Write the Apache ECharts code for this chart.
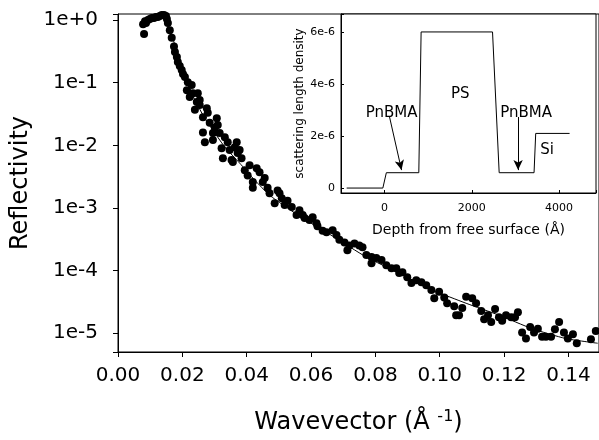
<!DOCTYPE html>
<html>
<head>
<meta charset="utf-8">
<script src="https://cdn.jsdelivr.net/npm/echarts@6/dist/echarts.min.js"></script>
<style>html,body{margin:0;padding:0;background:#fff;}#c{width:599px;height:440px;}</style>
</head>
<body>
<div id="c"></div>
<script>
// Main reflectivity data (wavevector in 1/Å, reflectivity)
const qData = [0.0078,0.0081,0.0084,0.0087,0.0093,0.0099,0.0105,0.0112,0.0118,0.0124,0.0130,0.0136,0.0143,0.0149,0.0152,0.0155,0.0161,0.0167,0.0174,0.0177,0.0183,0.0186,0.0192,0.0198,0.0202,0.0208,0.0214,0.0217,0.0223,0.0229,0.0233,0.0239,0.0245,0.0248,0.0254,0.0254,0.0264,0.0264,0.0270,0.0276,0.0279,0.0285,0.0295,0.0295,0.0301,0.0307,0.0310,0.0316,0.0322,0.0326,0.0332,0.0341,0.0347,0.0353,0.0357,0.0363,0.0369,0.0372,0.0378,0.0384,0.0394,0.0403,0.0409,0.0419,0.0419,0.0431,0.0440,0.0450,0.0456,0.0465,0.0471,0.0487,0.0496,0.0502,0.0509,0.0518,0.0527,0.0540,0.0555,0.0564,0.0574,0.0580,0.0595,0.0605,0.0617,0.0620,0.0636,0.0648,0.0667,0.0679,0.0688,0.0704,0.0713,0.0719,0.0735,0.0750,0.0760,0.0772,0.0788,0.0788,0.0803,0.0819,0.0834,0.0850,0.0865,0.0874,0.0884,0.0899,0.0912,0.0927,0.0943,0.0958,0.0974,0.0983,0.0998,0.1014,0.1023,0.1045,0.1051,0.1060,0.1070,0.1082,0.1101,0.1113,0.1129,0.1138,0.1150,0.1160,0.1172,0.1184,0.1194,0.1206,0.1222,0.1234,0.1243,0.1256,0.1268,0.1281,0.1293,0.1305,0.1318,0.1330,0.1346,0.1358,0.1371,0.1386,0.1398,0.1414,0.1426,0.1470,0.1485];
const rData = [0.86,0.60,0.96,0.90,1.00,1.04,1.08,1.08,1.12,1.12,1.16,1.20,1.20,1.16,1.04,0.90,0.69,0.52,0.38,0.31,0.256,0.213,0.184,0.159,0.137,0.123,0.076,0.102,0.059,0.092,0.068,0.037,0.049,0.068,0.044,0.053,0.028,0.016,0.0112,0.039,0.033,0.023,0.0157,0.0121,0.019,0.027,0.021,0.0157,0.0090,0.0062,0.0135,0.0112,0.0084,0.0058,0.0054,0.0093,0.0112,0.0075,0.0084,0.0062,0.0040,0.0033,0.0048,0.0026,0.0021,0.0043,0.0037,0.0026,0.0030,0.0021,0.00172,0.00119,0.0019,0.00172,0.00143,0.00111,0.0013,0.00103,0.00077,0.00092,0.00077,0.00069,0.00064,0.00071,0.00057,0.00051,0.00043,0.00041,0.00044,0.00037,0.00031,0.00028,0.00021,0.00025,0.00027,0.00025,0.000235,0.000177,0.000164,0.000131,0.000158,0.000147,0.000122,0.000109,0.000109,0.000091,0.000094,0.000078,0.000063,0.000070,0.000065,0.000058,0.000049,0.000036,0.000046,0.000037,0.000030,0.000027,0.0000194,0.0000194,0.0000251,0.000038,0.000036,0.000030,0.0000225,0.0000167,0.0000194,0.0000150,0.0000242,0.0000180,0.0000158,0.0000194,0.0000180,0.0000180,0.0000216,0.0000102,0.0000082,0.0000125,0.0000102,0.0000118,0.0000088,0.0000088,0.0000088,0.0000115,0.0000150,0.0000102,0.0000082,0.0000096,0.0000069,0.0000080,0.0000108];

// Fitted curve
const qFit = [0.0078,0.0130,0.0149,0.0161,0.0177,0.0192,0.0208,0.0239,0.0270,0.0301,0.0332,0.0378,0.0425,0.0471,0.0518,0.0564,0.0667,0.0772,0.0874,0.0977,0.1082,0.1184,0.1287,0.1392,0.1491];
const rFit = [1.0,1.12,1.12,0.69,0.40,0.213,0.123,0.0527,0.027,0.0157,0.0094,0.0052,0.00278,0.0016,0.00107,0.00074,0.000355,0.000164,0.000091,0.000049,0.000030,0.0000194,0.0000118,0.0000082,0.0000069];

// Inset: scattering length density profile
const depth = [-870,-40,40,785,838,2476,2629,3429,3467,4244];
const sld = [0,0,0.59e-6,0.59e-6,6.0e-6,6.0e-6,0.59e-6,0.59e-6,2.1e-6,2.1e-6];

// Inset annotations
const noteNames = ['PnBMA','PS','PnBMA','Si'];
const noteDepth = [160,1737,3246,3726];
const noteSld = [2.88e-6,3.62e-6,2.88e-6,1.46e-6];
const arrowDepth = [[114,389],[3063,3063]];
const arrowSld = [[2.73e-6,0.69e-6],[2.73e-6,0.69e-6]];

const FONT = 'DejaVu Sans';
const chart = echarts.init(document.getElementById('c'));

const option = {
  animation: false,
  backgroundColor: '#fff',
  textStyle: { fontFamily: FONT, color: '#000' },
  grid: [
    { left: 118, top: 14, width: 482, height: 338, show: true, borderColor: '#000', borderWidth: 1, backgroundColor: 'transparent' },
    { left: 341, top: 14, width: 256, height: 179, show: true, borderColor: '#000', borderWidth: 1, backgroundColor: '#fff' }
  ],
  xAxis: [
    {
      type: 'value', gridIndex: 0, min: 0, max: 0.1495, interval: 0.02,
      axisLine: { onZero: false, lineStyle: { color: '#000', width: 1 } },
      axisTick: { show: true, inside: false, length: 5, lineStyle: { color: '#000' } },
      splitLine: { show: false },
      axisLabel: { color: '#000', fontSize: 20, fontFamily: FONT, margin: 14, showMaxLabel: false,
        formatter: v => v.toFixed(2) },
      name: '{a|Wavevector (Å }{s|-1}{a|)}',
      nameLocation: 'middle', nameGap: 57,
      nameTextStyle: { rich: {
        a: { fontSize: 24, fontFamily: FONT, color: '#000' },
        s: { fontSize: 16, fontFamily: FONT, color: '#000', verticalAlign: 'top', padding: [0, 0, 12, 0] }
      } }
    },
    {
      type: 'value', gridIndex: 1, min: -1000, max: 4850, splitNumber: 3,
      axisLine: { onZero: false, lineStyle: { color: '#000', width: 1 } },
      axisTick: { show: true, inside: true, length: 3, lineStyle: { color: '#000' } },
      splitLine: { show: false },
      axisLabel: { color: '#000', fontSize: 11, fontFamily: FONT, margin: 10,
        formatter: v => (Math.abs(v % 2000) < 1e-6 ? String(v) : '') },
      name: 'Depth from free surface (Å)', nameLocation: 'middle', nameGap: 30,
      nameTextStyle: { fontSize: 14, fontFamily: FONT, color: '#000' }
    }
  ],
  yAxis: [
    {
      type: 'log', logBase: 10, gridIndex: 0, min: 5e-6, max: 1.25,
      axisLine: { onZero: false, lineStyle: { color: '#000', width: 1 } },
      axisTick: { show: true, inside: false, length: 5, lineStyle: { color: '#000' } },
      minorTick: { show: false },
      splitLine: { show: false },
      axisLabel: { color: '#000', fontSize: 20, fontFamily: FONT, margin: 20,
        formatter: v => {
          const l = Math.log10(v), e = Math.round(l);
          if (Math.abs(l - e) > 1e-6) return '';
          return '1e' + (e >= 0 ? '+' : '') + e;
        } },
      name: 'Reflectivity', nameLocation: 'middle', nameGap: 84, nameRotate: 90,
      nameTextStyle: { fontSize: 24, fontFamily: FONT, color: '#000' }
    },
    {
      type: 'value', gridIndex: 1, min: -0.19e-6, max: 6.69e-6, splitNumber: 3,
      axisLine: { onZero: false, lineStyle: { color: '#000', width: 1 } },
      axisTick: { show: true, inside: true, length: 3, lineStyle: { color: '#000' } },
      splitLine: { show: false },
      axisLabel: { color: '#000', fontSize: 11, fontFamily: FONT, margin: 6,
        formatter: v => {
          const k = v / 1e-6, r = Math.round(k);
          if (Math.abs(k - r) > 1e-4 || r % 2 !== 0) return '';
          return r === 0 ? '0' : r + 'e-6';
        } },
      name: 'scattering length density', nameLocation: 'middle', nameGap: 33, nameRotate: 90,
      nameTextStyle: { fontSize: 12, fontFamily: FONT, color: '#000' }
    }
  ],
  series: [
    {
      type: 'scatter', xAxisIndex: 0, yAxisIndex: 0,
      data: qData.map((q, i) => [q, rData[i]]),
      symbol: 'circle', symbolSize: 8,
      itemStyle: { color: '#000', opacity: 1 }
    },
    {
      type: 'line', xAxisIndex: 0, yAxisIndex: 0,
      data: qFit.map((q, i) => [q, rFit[i]]),
      showSymbol: false, smooth: 0.2,
      lineStyle: { color: '#000', width: 1 }
    },
    {
      type: 'line', xAxisIndex: 1, yAxisIndex: 1,
      data: depth.map((d, i) => [d, sld[i]]),
      showSymbol: false, symbol: 'none',
      lineStyle: { color: '#000', width: 1 },
      markLine: {
        silent: true, symbol: ['none', 'arrow'], symbolSize: [7, 10], animation: false,
        lineStyle: { color: '#000', width: 1, type: 'solid' },
        label: { show: false },
        data: arrowDepth.map((d, i) => [{ coord: [d[0], arrowSld[i][0]] }, { coord: [d[1], arrowSld[i][1]] }])
      },
      markPoint: {
        silent: true, symbol: 'circle', symbolSize: 1, animation: false,
        itemStyle: { color: 'rgba(0,0,0,0)' },
        label: { show: true, position: 'inside', color: '#000', fontSize: 15, fontFamily: FONT, formatter: p => p.name },
        data: noteNames.map((n, i) => ({ name: n, coord: [noteDepth[i], noteSld[i]] }))
      }
    }
  ]
};
chart.setOption(option);
</script>
</body>
</html>
